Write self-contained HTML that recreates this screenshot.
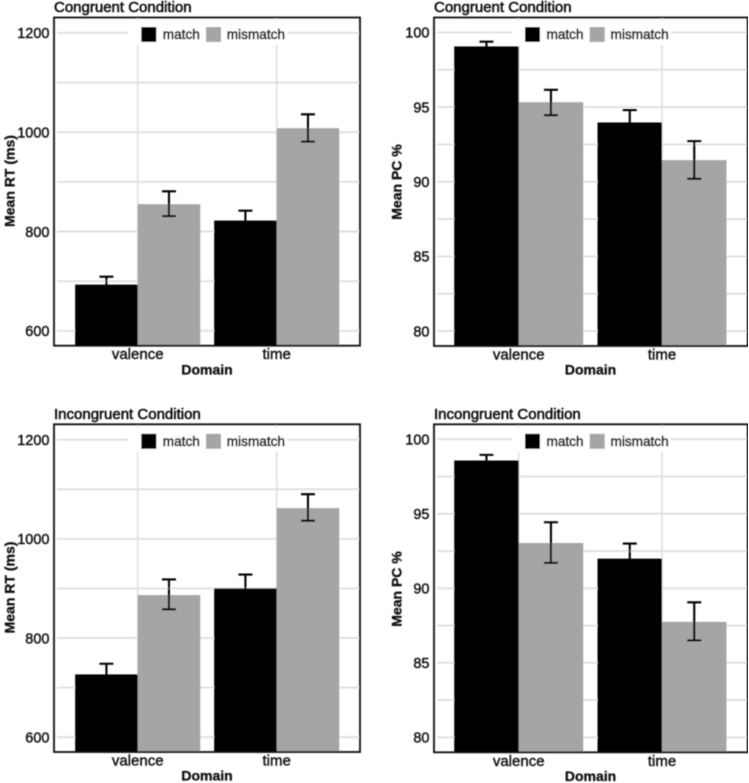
<!DOCTYPE html>
<html>
<head>
<meta charset="utf-8">
<style>
html,body{margin:0;padding:0;background:#fff;width:749px;height:783px;overflow:hidden}
svg{display:block}
text{font-family:"Liberation Sans",sans-serif;fill:#111}
</style>
</head>
<body>
<svg id="figure" width="749" height="783" viewBox="0 0 749 783" xmlns="http://www.w3.org/2000/svg">
<defs><filter id="soft" x="0" y="0" width="100%" height="100%"><feGaussianBlur stdDeviation="0.45"/></filter></defs>
<rect width="749" height="783" fill="#fff"/>
<g id="root" filter="url(#soft)"></g>
</svg>
<script>
const categories = ['valence', 'time'];
const seriesNames = ['match', 'mismatch'];
const rtTicks = [600, 800, 1000, 1200];
const pcTicks = [80, 85, 90, 95, 100];
const rtDomain = [570, 1231];
const pcDomain = [79, 101];

const congruentRtMatch = [693, 822];
const congruentRtMatchUpper = [709, 842];
const congruentRtMatchLower = [677, 802];
const congruentRtMismatch = [855, 1008];
const congruentRtMismatchUpper = [881, 1036];
const congruentRtMismatchLower = [831, 981];

const congruentPcMatch = [99.06, 93.97];
const congruentPcMatchUpper = [99.38, 94.8];
const congruentPcMatchLower = [98.72, 93.12];
const congruentPcMismatch = [95.33, 91.45];
const congruentPcMismatchUpper = [96.16, 92.72];
const congruentPcMismatchLower = [94.46, 90.2];

const incongruentRtMatch = [726.5, 900];
const incongruentRtMatchUpper = [748, 928];
const incongruentRtMatchLower = [704, 872];
const incongruentRtMismatch = [886.6, 1062];
const incongruentRtMismatchUpper = [918, 1090];
const incongruentRtMismatchLower = [857.8, 1036.6];

const incongruentPcMatch = [98.57, 91.99];
const incongruentPcMatchUpper = [98.95, 93];
const incongruentPcMatchLower = [98.2, 91];
const incongruentPcMismatch = [93.04, 87.75];
const incongruentPcMismatchUpper = [94.43, 89.06];
const incongruentPcMismatchLower = [91.7, 86.5];

const NS = 'http://www.w3.org/2000/svg';
const root = document.getElementById('root');
const GRID = '#e0e0e0';
const MATCH_FILL = '#000000';
const MISMATCH_FILL = '#a5a5a5';
const INK = '#111';

function make(parent, tag, attrs, content) {
  const el = document.createElementNS(NS, tag);
  for (const k in attrs) el.setAttribute(k, attrs[k]);
  if (content !== undefined) el.textContent = content;
  parent.appendChild(el);
  return el;
}

function drawPanel(p) {
  const g = make(root, 'g', {});
  
  

  const y = v => p.bottom - (v - p.domain[0]) / (p.domain[1] - p.domain[0]) * (p.bottom - p.top);
  const x = i => p.firstCat + i * p.catStep;
  const barW = p.catStep * 0.45;

  // title
  const title = make(g, 'text', {x: p.left, y: p.top - 5.5, 'font-size': 15, stroke: INK, 'stroke-width': 0.55}, p.title);
  
  

  // horizontal grid lines, major and minor
  for (let i = 0; i < p.ticks.length; i++) {
    const major = make(g, 'line', {x1: p.left + 3, x2: p.right - 1, y1: y(p.ticks[i]), y2: y(p.ticks[i]), stroke: GRID, 'stroke-width': 1.9});
    
    
    if (i < p.ticks.length - 1) {
      const mid = (p.ticks[i] + p.ticks[i + 1]) / 2;
      const minor = make(g, 'line', {x1: p.left + 3, x2: p.right - 1, y1: y(mid), y2: y(mid), stroke: GRID, 'stroke-width': 1.9});
      
      
    }
  }
  // vertical grid lines
  categories.forEach((c, i) => {
    const v = make(g, 'line', {x1: x(i), x2: x(i), y1: p.top + 1, y2: p.bottom, stroke: GRID, 'stroke-width': 1.6});
    
    
  });

  // legend background
  const lbg = make(g, 'rect', {x: p.legendX - 13, y: p.top + 3.5, width: 159, height: 24, fill: '#fff'});
  
  

  // bars and error bars
  const series = [
    {name: seriesNames[1], vals: p.mismatch, up: p.mismatchUp, lo: p.mismatchLo, fill: MISMATCH_FILL, off: 0},
    {name: seriesNames[0], vals: p.match, up: p.matchUp, lo: p.matchLo, fill: MATCH_FILL, off: -barW}
  ];
  series.forEach(s => {
    categories.forEach((c, i) => {
      const bx = x(i) + s.off;
      const bar = make(g, 'rect', {x: bx, y: y(s.vals[i]), width: barW, height: p.bottom - y(s.vals[i]), fill: s.fill});
      
      
    });
  });
  series.forEach(s => {
    categories.forEach((c, i) => {
      const cx = x(i) + s.off + barW / 2;
      const d = 'M' + (cx - 7) + ' ' + y(s.up[i]) + 'H' + (cx + 7) +
                'M' + cx + ' ' + y(s.up[i]) + 'V' + y(s.lo[i]) +
                'M' + (cx - 7) + ' ' + y(s.lo[i]) + 'H' + (cx + 7);
      const err = make(g, 'path', {d: d, fill: 'none', stroke: '#000', 'stroke-width': 2.1});
      
      
    });
  });

  // frame
  const frame = make(g, 'rect', {x: p.left, y: p.top, width: p.right - p.left, height: p.bottom - p.top, fill: 'none', stroke: '#111', 'stroke-width': 1.8});
  
  

  // legend
  const sw1 = make(g, 'rect', {x: p.legendX, y: p.top + 9.5, width: 15, height: 15, fill: MATCH_FILL});
  
  
  const lt1 = make(g, 'text', {x: p.legendX + 21.5, y: p.top + 21.5, 'font-size': 13.6, stroke: INK, 'stroke-width': 0.6}, seriesNames[0]);
  
  
  const sw2 = make(g, 'rect', {x: p.legendX + 64.7, y: p.top + 9.5, width: 15, height: 15, fill: MISMATCH_FILL});
  
  
  const lt2 = make(g, 'text', {x: p.legendX + 85.5, y: p.top + 21.5, 'font-size': 13.6, stroke: INK, 'stroke-width': 0.6}, seriesNames[1]);
  
  

  // y tick labels
  p.ticks.forEach(t => {
    const lab = make(g, 'text', {x: p.left - 4.5, y: y(t) + 5.3, 'font-size': 14.5, 'text-anchor': 'end', stroke: INK, 'stroke-width': 0.4}, t);
    
    
  });
  // x tick labels
  categories.forEach((c, i) => {
    const lab = make(g, 'text', {x: x(i), y: p.bottom + 13.5, 'font-size': 15, 'text-anchor': 'middle', stroke: INK, 'stroke-width': 0.4}, c);
    
    
  });
  // axis titles
  const xt = make(g, 'text', {x: p.xTitleX, y: p.bottom + 28.7, 'font-size': 14, 'font-weight': 'bold', 'text-anchor': 'middle', stroke: INK, 'stroke-width': 0.3}, 'Domain');
  
  
  const yt = make(g, 'text', {x: 0, y: 0, 'font-size': 14, 'font-weight': 'bold', 'text-anchor': 'middle', stroke: INK, 'stroke-width': 0.3, transform: 'translate(' + p.yTitleX + ' ' + p.yTitleY + ') rotate(-90)'}, p.yLabel);
  
  
}

drawPanel({key: 'congruent-rt', title: 'Congruent Condition', yLabel: 'Mean RT (ms)', ticks: rtTicks, domain: rtDomain,
  left: 54, right: 360, top: 17.5, bottom: 345.7, firstCat: 137.7, catStep: 139, legendX: 141.3, xTitleX: 207, yTitleX: 14.5, yTitleY: 181,
  match: congruentRtMatch, matchUp: congruentRtMatchUpper, matchLo: congruentRtMatchLower,
  mismatch: congruentRtMismatch, mismatchUp: congruentRtMismatchUpper, mismatchLo: congruentRtMismatchLower});
drawPanel({key: 'congruent-pc', title: 'Congruent Condition', yLabel: 'Mean PC %', ticks: pcTicks, domain: pcDomain,
  left: 434, right: 747.7, top: 17.5, bottom: 346, firstCat: 518.7, catStep: 143.3, legendX: 525, xTitleX: 590.5, yTitleX: 401.7, yTitleY: 182,
  match: congruentPcMatch, matchUp: congruentPcMatchUpper, matchLo: congruentPcMatchLower,
  mismatch: congruentPcMismatch, mismatchUp: congruentPcMismatchUpper, mismatchLo: congruentPcMismatchLower});
drawPanel({key: 'incongruent-rt', title: 'Incongruent Condition', yLabel: 'Mean RT (ms)', ticks: rtTicks, domain: rtDomain,
  left: 54, right: 360, top: 424.3, bottom: 752, firstCat: 137.7, catStep: 139, legendX: 141.3, xTitleX: 207, yTitleX: 14.5, yTitleY: 587.5,
  match: incongruentRtMatch, matchUp: incongruentRtMatchUpper, matchLo: incongruentRtMatchLower,
  mismatch: incongruentRtMismatch, mismatchUp: incongruentRtMismatchUpper, mismatchLo: incongruentRtMismatchLower});
drawPanel({key: 'incongruent-pc', title: 'Incongruent Condition', yLabel: 'Mean PC %', ticks: pcTicks, domain: pcDomain,
  left: 434, right: 747.7, top: 424.3, bottom: 752.3, firstCat: 518.7, catStep: 143.3, legendX: 525, xTitleX: 590.5, yTitleX: 401.7, yTitleY: 589,
  match: incongruentPcMatch, matchUp: incongruentPcMatchUpper, matchLo: incongruentPcMatchLower,
  mismatch: incongruentPcMismatch, mismatchUp: incongruentPcMismatchUpper, mismatchLo: incongruentPcMismatchLower});
</script>
</body>
</html>
